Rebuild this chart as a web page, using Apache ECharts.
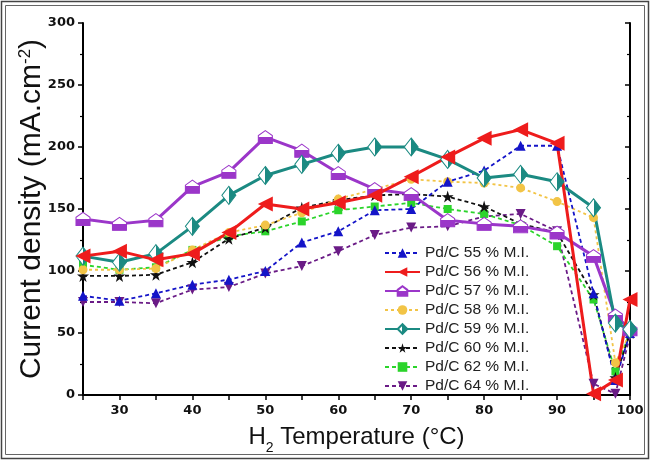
<!DOCTYPE html>
<html>
<head>
<meta charset="utf-8">
<script src="https://cdn.jsdelivr.net/npm/echarts@6/dist/echarts.min.js"></script>
<style>
  html, body { margin: 0; padding: 0; background: #fff; }
  #chart { width: 650px; height: 460px; }
</style>
</head>
<body>
<div id="chart"></div>
<script>
// H2 temperature (°C)
const temps = [25, 30, 35, 40, 45, 50, 55, 60, 65, 70, 75, 80, 85, 90, 95, 98, 100];

// current density (mA.cm-2) per catalyst loading
const pd55 = [80, 76, 82, 89, 93, 100, 123, 132, 149, 150, 172, 181, 201, 201, 82, 12, 50];
const pd56 = [112, 116, 109, 114, 131, 154, 150, 155, 161, 176, 192, 207, 214, 203, 1, 12, 77];
const pd57 = [142, 138, 141, 168, 180, 208, 197, 179, 166, 162, 141, 138, 136, 131, 112, 64, 53];
const pd58 = [101, 101, 102, 117, 131, 137, 147, 158, 166, 174, 172, 171, 167, 156, 143, 26, 50];
const pd59 = [112, 107, 114, 136, 161, 177, 186, 195, 200, 200, 190, 175, 178, 172, 151, 58, 53];
const pd60 = [96, 96, 97, 107, 126, 135, 151, 157, 161, 162, 160, 152, 138, 131, 81, 14, 50];
const pd62 = [105, 101, 103, 117, 128, 132, 140, 149, 152, 155, 150, 146, 137, 120, 77, 19, 51];
const pd64 = [75, 75, 74, 85, 87, 98, 104, 116, 129, 135, 136, 144, 146, 132, 9, 1, 48];

const yTicks = [0, 50, 100, 150, 200, 250, 300];

const chart = echarts.init(document.getElementById('chart'));

const pts = (arr) => temps.map((t, i) => [t, arr[i]]);

const halfV = (c) => new echarts.graphic.LinearGradient(0, 0, 0, 1, [
  { offset: 0, color: '#ffffff' }, { offset: 0.48, color: '#ffffff' },
  { offset: 0.48, color: c }, { offset: 1, color: c }
]);
const halfH = (c) => new echarts.graphic.LinearGradient(0, 0, 1, 0, [
  { offset: 0, color: '#ffffff' }, { offset: 0.5, color: '#ffffff' },
  { offset: 0.5, color: c }, { offset: 1, color: c }
]);

const STAR = 'path://M50,0 L61,35 L98,35 L68,57 L79,91 L50,70 L21,91 L32,57 L2,35 L39,35 Z';
const HOUSE = 'path://M50,0 L100,38 L100,100 L0,100 L0,38 Z';

function line(name, data, color, opt) {
  return Object.assign({
    name: name,
    type: 'line',
    data: pts(data),
    symbol: 'triangle',
    symbolSize: 9,
    lineStyle: { color: color, width: 1.8, type: [4, 3] },
    itemStyle: { color: color },
    emphasis: { disabled: true },
    animation: false
  }, opt);
}

const option = {
  animation: false,
  grid: { left: 83, right: 20, top: 23, bottom: 64 },
  legend: {
    orient: 'vertical',
    left: 379,
    top: 240,
    itemWidth: 35,
    itemHeight: 12,
    itemGap: 3,
    textStyle: { fontFamily: 'Liberation Sans', fontSize: 15.5, color: '#222' },
    data: ['Pd/C 55 % M.I.', 'Pd/C 56 % M.I.', 'Pd/C 57 % M.I.', 'Pd/C 58 % M.I.',
           'Pd/C 59 % M.I.', 'Pd/C 60 % M.I.', 'Pd/C 62 % M.I.', 'Pd/C 64 % M.I.']
  },
  xAxis: [
    {
      type: 'value',
      min: 25, max: 100, interval: 5,
      name: '{a|H}{s|2}{a| Temperature (°C)}',
      nameLocation: 'middle',
      nameGap: 24,
      nameTextStyle: {
        rich: {
          a: { fontFamily: 'Liberation Sans', fontSize: 24, color: '#111', lineHeight: 36 },
          s: { fontFamily: 'Liberation Sans', fontSize: 14, color: '#111', verticalAlign: 'bottom', lineHeight: 14 }
        }
      },
      axisLine: { lineStyle: { color: '#000', width: 2 } },
      axisTick: { length: 5, lineStyle: { color: '#000', width: 1.5 } },
      axisLabel: {
        fontFamily: 'DejaVu Sans', fontWeight: 'bold', fontSize: 13, color: '#111', margin: 9,
        formatter: (v) => (v % 10 === 0 ? String(v) : '')
      },
      splitLine: { show: false }
    },
    {
      type: 'value',
      position: 'top',
      min: 25, max: 100, interval: 5,
      axisLine: { lineStyle: { color: '#000', width: 2 } },
      axisTick: { show: false },
      axisLabel: { show: false },
      splitLine: { show: false }
    }
  ],
  yAxis: [
    {
      type: 'value',
      min: yTicks[0], max: yTicks[yTicks.length - 1], interval: 50,
      name: '{a|Current density (mA.cm}{s|-2}{a|)}',
      nameLocation: 'middle',
      nameGap: 36,
      nameMoveOverlap: false,
      nameTextStyle: {
        rich: {
          a: { fontFamily: 'Liberation Sans', fontSize: 30, color: '#111', lineHeight: 30 },
          s: { fontFamily: 'Liberation Sans', fontSize: 17, color: '#111', verticalAlign: 'top', lineHeight: 17 }
        }
      },
      axisLine: { show: true, lineStyle: { color: '#000', width: 2 } },
      axisTick: { show: true, length: 5, lineStyle: { color: '#000', width: 1.5 } },
      minorTick: { show: true, splitNumber: 2, length: 3, lineStyle: { color: '#000', width: 1.2 } },
      axisLabel: { fontFamily: 'DejaVu Sans', fontWeight: 'bold', fontSize: 13, color: '#111', margin: 8 },
      splitLine: { show: false }
    },
    {
      type: 'value',
      position: 'right',
      min: yTicks[0], max: yTicks[yTicks.length - 1], interval: 50,
      axisLine: { show: true, lineStyle: { color: '#000', width: 2 } },
      axisTick: { show: true, inside: true, length: 5, lineStyle: { color: '#000', width: 1.5 } },
      minorTick: { show: true, splitNumber: 2, length: 3, lineStyle: { color: '#000', width: 1.2 } },
      axisLabel: { show: false },
      splitLine: { show: false }
    }
  ],
  graphic: [
    { type: 'rect', shape: { x: 1.5, y: 1.5, width: 647, height: 457 }, style: { fill: 'none', stroke: '#444', lineWidth: 1.5 }, silent: true },
    { type: 'rect', shape: { x: 5.5, y: 5.5, width: 639, height: 449 }, style: { fill: 'none', stroke: '#666', lineWidth: 1 }, silent: true }
  ],
  series: [
    line('Pd/C 64 % M.I.', pd64, '#6a1b86', { symbol: 'triangle', symbolRotate: 180, symbolSize: 10 }),
    line('Pd/C 62 % M.I.', pd62, '#2bd42b', { symbol: 'rect', symbolSize: 8 }),
    line('Pd/C 60 % M.I.', pd60, '#111111', { symbol: STAR, symbolSize: 12 }),
    line('Pd/C 58 % M.I.', pd58, '#f2c446', { symbol: 'circle', symbolSize: 9, lineStyle: { color: '#f2c446', width: 1.8, type: [3, 3] } }),
    line('Pd/C 55 % M.I.', pd55, '#1414c8', { symbol: 'triangle', symbolSize: 10 }),
    line('Pd/C 57 % M.I.', pd57, '#9b36c9', {
      symbol: HOUSE, symbolSize: [14, 13],
      lineStyle: { color: '#9b36c9', width: 3, type: 'solid' },
      itemStyle: { color: halfV('#9b36c9'), borderColor: '#9b36c9', borderWidth: 1 }
    }),
    line('Pd/C 59 % M.I.', pd59, '#1b8a82', {
      symbol: 'diamond', symbolSize: [14, 18],
      lineStyle: { color: '#1b8a82', width: 3, type: 'solid' },
      itemStyle: { color: halfH('#1b8a82'), borderColor: '#1b8a82', borderWidth: 1 }
    }),
    line('Pd/C 56 % M.I.', pd56, '#ee1c1c', {
      symbol: 'triangle', symbolRotate: 90, symbolSize: 15,
      lineStyle: { color: '#ee1c1c', width: 3, type: 'solid' }
    })
  ]
};

chart.setOption(option);
window.addEventListener('resize', () => chart.resize());
</script>
</body>
</html>
